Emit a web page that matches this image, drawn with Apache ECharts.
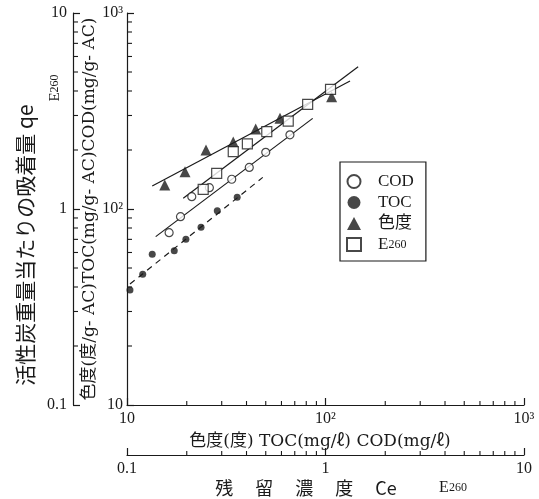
<!DOCTYPE html>
<html><head><meta charset="utf-8">
<script src="https://cdn.jsdelivr.net/npm/echarts@6/dist/echarts.min.js"></script>
<style>html,body{margin:0;padding:0;background:#fff}#c{width:539px;height:499px}</style>
</head><body><div id="c"></div>
<script>
// ---- data (residual concentration Ce vs adsorbed amount qe) ----
const codX = [16.3, 18.6, 21.2, 26.0, 33.7, 41.3, 50.0, 66.2];
const codY = [75.7, 91.4, 115.6, 128.5, 141.8, 163, 194.5, 239];
const tocX = [10.35, 12.0, 13.4, 17.3, 19.8, 23.6, 28.5, 35.9];
const tocY = [38.6, 46.4, 58.7, 61.2, 70, 80.7, 98, 114.8];
const colX = [15.5, 19.6, 25.0, 34.3, 44.5, 59.0, 107.4];
const colY = [132.6, 154.9, 200, 220, 256, 290, 374];
const e260X = [24.2, 28.3, 34.3, 40.4, 50.6, 64.9, 81.3, 106];
const e260Y = [126, 152, 196, 215, 248, 281, 342, 408];
const codLine = [[13.95, 72.3], [86.2, 290]];
const tocLine = [[10.35, 41.4], [48.3, 145]];
const colLine = [[13.4, 131], [132.9, 450]];
const e260Line = [[19.2, 113.4], [146, 532]];
const mainTickLabels = ['10', '10²', '10³'];   // 10, 100, 1000
const subTickLabels = ['0.1', '1', '10'];       // 0.1, 1, 10
const minorMultipliers = [2, 3, 4, 5, 6, 7, 8, 9];
const seriesNames = ['COD', 'TOC', '色度', 'E260'];

const zip = (a, b) => a.map((v, i) => [v, b[i]]);
const SERIF = 'Liberation Serif, DejaVu Serif, Noto Sans CJK JP';
const INK = '#1a1a1a';

function mainFmt(v) { return mainTickLabels[Math.round(Math.log10(v)) - 1] || ''; }
function subFmt(v) { return subTickLabels[Math.round(Math.log10(v)) + 1] || ''; }

function axisBase(fmt, margin) {
  return {
    type: 'log', logBase: 10,
    axisLine: { show: true, onZero: false, lineStyle: { color: INK, width: 1.2 } },
    axisTick: { show: true, inside: true, length: 7, lineStyle: { color: INK, width: 1.2 } },
    axisLabel: { show: true, formatter: fmt, margin: margin, fontFamily: SERIF, fontSize: 16, color: INK,
                 showMinLabel: true, showMaxLabel: true, hideOverlap: false },
    splitLine: { show: false }, minorTick: { show: false }, minorSplitLine: { show: false }
  };
}

const chart = echarts.init(document.getElementById('c'), null, { renderer: 'canvas' });

const lineStyle = { color: INK, width: 1.2 };
const option = {
  backgroundColor: '#fff',
  animation: false,
  grid: { left: 127, right: 15, top: 13, bottom: 94, containLabel: false, outerBoundsMode: 'none' },
  xAxis: [
    Object.assign(axisBase(mainFmt, 6), { min: 10, max: 1000, position: 'bottom' }),
    Object.assign(axisBase(subFmt, 6), { min: 0.1, max: 10, position: 'bottom', offset: 50 })
  ],
  yAxis: [
    Object.assign(axisBase(mainFmt, 4), { min: 10, max: 1000, position: 'left' }),
    Object.assign(axisBase(subFmt, 6), { min: 0.1, max: 10, position: 'left', offset: 54 })
  ],
  legend: {
    data: seriesNames, orient: 'vertical', left: 340, top: 162,
    borderColor: INK, borderWidth: 1.2, padding: [11, 12, 8, 6], itemGap: 4,
    itemWidth: 14, itemHeight: 13, selectedMode: false,
    textStyle: { fontFamily: SERIF, fontSize: 17, lineHeight: 16, color: INK, padding: [0, 0, 0, 12],
      rich: { e: { fontFamily: SERIF, fontSize: 17, lineHeight: 16, color: INK },
              s: { fontFamily: SERIF, fontSize: 12, lineHeight: 16, color: INK } } },
    formatter: n => n === 'E260' ? '{e|E}{s|260}' : n
  },
  series: [
    { type: 'line', data: codLine, symbol: 'none', lineStyle: lineStyle, z: 1, silent: true },
    { type: 'line', data: tocLine, symbol: 'none', lineStyle: { color: INK, width: 1.2, type: [6, 5] }, z: 1, silent: true },
    { type: 'line', data: colLine, symbol: 'none', lineStyle: lineStyle, z: 1, silent: true },
    { type: 'line', data: e260Line, symbol: 'none', lineStyle: lineStyle, z: 1, silent: true },
    { name: 'COD', type: 'scatter', data: zip(codX, codY), symbol: 'circle', symbolSize: 8,
      itemStyle: { color: '#fff', borderColor: INK, borderWidth: 1.2 }, z: 3 },
    { name: 'TOC', type: 'scatter', data: zip(tocX, tocY), symbol: 'circle', symbolSize: 7,
      itemStyle: { color: INK }, z: 3 },
    { name: '色度', type: 'scatter', data: zip(colX, colY), symbol: 'triangle', symbolSize: 11,
      itemStyle: { color: INK }, z: 3 },
    { name: 'E260', type: 'scatter', data: zip(e260X, e260Y), symbol: 'rect', symbolSize: 10,
      itemStyle: { color: '#fff', borderColor: INK, borderWidth: 1.2 }, z: 3 }
  ],
  graphic: [
    { type: 'text', x: 25, y: 245, rotation: Math.PI / 2,
      style: { text: '活性炭重量当たりの吸着量 qe', font: '21px "Noto Sans CJK JP"', fill: INK, align: 'center', verticalAlign: 'middle' } },
    { type: 'text', x: 90, y: 209, rotation: Math.PI / 2,
      style: { text: '色度(度/g- AC)TOC(mg/g- AC)COD(mg/g- AC)', font: '17px "DejaVu Serif", "Noto Sans CJK JP"', fill: INK, align: 'center', verticalAlign: 'middle' } },
    { type: 'text', x: 55, y: 88, rotation: Math.PI / 2,
      style: { text: '{e|E}{s|260}', fill: INK, align: 'center', verticalAlign: 'middle',
        rich: { e: { fontFamily: SERIF, fontSize: 15, fill: INK }, s: { fontFamily: SERIF, fontSize: 12, fill: INK } } } },
    { type: 'text', x: 320, y: 442,
      style: { text: '色度(度) TOC(mg/ℓ) COD(mg/ℓ)', font: '17px "DejaVu Serif", "Noto Sans CJK JP"', fill: INK, align: 'center', verticalAlign: 'middle' } },
    { type: 'text', x: 306, y: 488,
      style: { text: '残\u3000 留\u3000 濃\u3000 度\u3000 Ce', font: '18px "Noto Sans CJK JP"', fill: INK, align: 'center', verticalAlign: 'middle' } },
    { type: 'text', x: 453, y: 488,
      style: { text: '{e|E}{s|260}', fill: INK, align: 'center', verticalAlign: 'middle',
        rich: { e: { fontFamily: SERIF, fontSize: 16, fill: INK }, s: { fontFamily: SERIF, fontSize: 12, fill: INK } } } }
  ]
};
chart.setOption(option);

// minor log ticks drawn from the axes' own scales
const ticks = [];
const tickStyle = { stroke: INK, lineWidth: 1.1 };
const yMainX = chart.convertToPixel({ xAxisIndex: 0 }, 10);
const xMainY = chart.convertToPixel({ yAxisIndex: 0 }, 10);
[10, 100].forEach(dec => minorMultipliers.forEach(m => {
  const v = dec * m;
  const px = chart.convertToPixel({ xAxisIndex: 0 }, v);
  ticks.push({ type: 'line', shape: { x1: px, y1: xMainY, x2: px, y2: xMainY - 4 }, style: tickStyle, z: 5 });
  const py = chart.convertToPixel({ yAxisIndex: 0 }, v);
  ticks.push({ type: 'line', shape: { x1: yMainX, y1: py, x2: yMainX + 5, y2: py }, style: tickStyle, z: 5 });
}));
[0.1, 1].forEach(dec => minorMultipliers.forEach(m => {
  const v = dec * m;
  const px = chart.convertToPixel({ xAxisIndex: 1 }, v);
  ticks.push({ type: 'line', shape: { x1: px, y1: xMainY + 50, x2: px, y2: xMainY + 46 }, style: tickStyle, z: 5 });
  const py = chart.convertToPixel({ yAxisIndex: 1 }, v);
  ticks.push({ type: 'line', shape: { x1: yMainX - 54, y1: py, x2: yMainX - 49, y2: py }, style: tickStyle, z: 5 });
}));
chart.setOption({ graphic: option.graphic.concat(ticks) });
</script></body></html>
